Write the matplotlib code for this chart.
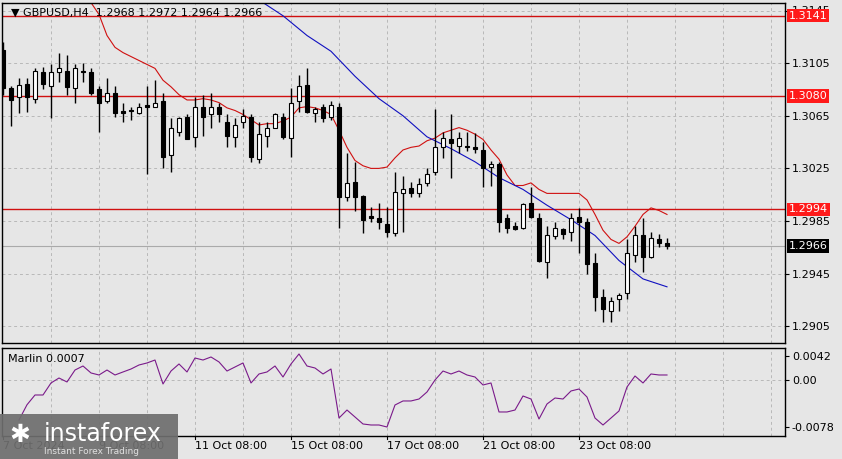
import numpy as np
import matplotlib
matplotlib.use("Agg")
import matplotlib.pyplot as plt
from matplotlib.patches import Rectangle

# --------------------------------------------------
# Data (GBPUSD H4, prices in pips *1e-4)
# --------------------------------------------------

opens = [13115, 13086, 13079, 13089, 13078, 13098, 13088, 13098, 13099, 13086,
         13099, 13098, 13085, 13076, 13082, 13069, 13069, 13067, 13073, 13072,
         13076, 13035, 13053, 13064, 13049, 13072, 13066, 13072, 13060, 13049,
         13060, 13064, 13032, 13050, 13056, 13064, 13048, 13076, 13088, 13067,
         13072, 13064, 13072, 13003, 13015, 13004, 12989, 12987, 12983, 12976,
         13006, 13010, 13006, 13014, 13022, 13041, 13047, 13042, 13042, 13041,
         13039, 13026, 13028, 12987, 12981, 12980, 12999, 12987, 12954, 12974,
         12979, 12977, 12988, 12984, 12953, 12927, 12917, 12926, 12930, 12959,
         12974, 12958, 12971, 12968]
highs = [13121, 13088, 13094, 13094, 13101, 13102, 13104, 13113, 13111, 13104,
         13105, 13101, 13088, 13094, 13088, 13075, 13072, 13075, 13088, 13092,
         13082, 13063, 13064, 13066, 13079, 13081, 13082, 13075, 13066, 13063,
         13070, 13066, 13060, 13060, 13067, 13067, 13086, 13096, 13101, 13072,
         13074, 13076, 13075, 13037, 13030, 13005, 12996, 12999, 12996, 13022,
         13019, 13015, 13018, 13025, 13070, 13053, 13066, 13053, 13053, 13052,
         13045, 13031, 13030, 12990, 12984, 12999, 13011, 12991, 12981, 12984,
         12980, 12991, 12995, 12987, 12961, 12933, 12927, 12930, 12971, 12981,
         12987, 12977, 12975, 12972]
lows = [13081, 13057, 13067, 13068, 13075, 13085, 13063, 13091, 13081, 13075,
        13091, 13081, 13053, 13075, 13064, 13060, 13062, 13066, 13021, 13072,
        13025, 13022, 13050, 13047, 13041, 13050, 13056, 13060, 13041, 13041,
        13056, 13030, 13029, 13041, 13056, 13047, 13034, 13068, 13067, 13060,
        13060, 13062, 12980, 13000, 12993, 12976, 12984, 12979, 12973, 12974,
        12977, 13003, 13003, 13012, 13020, 13033, 13018, 13037, 13038, 13037,
        13011, 13012, 12977, 12976, 12978, 12979, 12987, 12954, 12942, 12971,
        12971, 12970, 12961, 12945, 12917, 12908, 12908, 12917, 12926, 12954,
        12946, 12957, 12965, 12964]
closes = [13086, 13077, 13088, 13079, 13099, 13089, 13098, 13101, 13087, 13101,
          13098, 13082, 13075, 13082, 13067, 13067, 13069, 13072, 13072, 13075,
          13034, 13056, 13063, 13047, 13072, 13064, 13072, 13066, 13050, 13058,
          13065, 13034, 13051, 13056, 13066, 13049, 13075, 13088, 13068, 13070,
          13063, 13073, 13003, 13014, 13003, 12986, 12987, 12984, 12977, 13007,
          13009, 13006, 13013, 13021, 13041, 13048, 13044, 13048, 13041, 13040,
          13025, 13028, 12984, 12980, 12979, 12998, 12988, 12955, 12974, 12980,
          12975, 12987, 12984, 12952, 12927, 12918, 12924, 12929, 12961, 12974,
          12958, 12972, 12968, 12966]

red_start = 11
red_ma = [13151, 13142, 13126, 13117, 13113, 13110, 13107, 13104, 13101, 13092,
          13087, 13081, 13077, 13077, 13078, 13077, 13075, 13071, 13069, 13066,
          13062, 13058, 13059, 13059, 13061, 13064, 13071, 13072, 13071, 13069,
          13066, 13054, 13041, 13031, 13027, 13025, 13025, 13026, 13033, 13039,
          13041, 13042, 13046, 13048, 13052, 13054, 13056, 13054, 13051, 13047,
          13039, 13032, 13020, 13012, 13012, 13014, 13009, 13006, 13006, 13006,
          13006, 13006, 13001, 12990, 12978, 12971, 12968, 12973, 12981, 12990,
          12995, 12993, 12990]

blue_idx = [31, 32, 35, 38, 41, 44, 47, 50, 53, 56, 59, 62, 65, 68, 71, 74, 77, 80, 83]
blue_ma = [13161, 13153, 13141, 13126, 13114, 13095, 13078, 13065, 13049, 13040,
           13030, 13018, 13009, 12997, 12986, 12974, 12955, 12941, 12935]

marlin_start = 2
marlin = [-66.8, -41, -24.5, -24.5, -4.2, 4.2, -2.5, 17.7, 24.5, 12.7,
          9.3, 17.7, 9.3, 14.4, 19.4, 26.2, 29.6, 34.6, -5.9, 16,
          27.9, 14.4, 38, 34.6, 39.7, 31.3, 16, 22.8, 29.6, -4.2,
          11, 14.4, 24.5, 5.9, 27.9, 44.8, 24.5, 21.1, 11, 19.4,
          -63.4, -49.9, -61.7, -73.5, -75.2, -75.2, -78.6, -41.4, -34.6, -34.6,
          -31.3, -19.4, 0.8, 16, 11, 16, 9.3, 5.9, -7.6, -4.2,
          -53.2, -53.2, -49.9, -26.2, -31.3, -65.1, -39.7, -29.6, -31.3, -17.7,
          -14.4, -27.9, -63.4, -75.2, -63.4, -51.5, -11, 7.6, -4.2, 11,
          9.3, 9.3]

levels = [1.3141, 1.3080, 1.2994]
last_price = 1.2966
price_ticks = [1.3145, 1.3105, 1.3065, 1.3025, 1.2985, 1.2945, 1.2905]
date_idx = [0, 12, 24, 36, 48, 60, 72]
date_labels = ["7 Oct 2024", "9 Oct 08:00", "11 Oct 08:00", "15 Oct 08:00",
               "17 Oct 08:00", "21 Oct 08:00", "23 Oct 08:00"]

o = np.array(opens) / 1e4
h = np.array(highs) / 1e4
l = np.array(lows) / 1e4
c = np.array(closes) / 1e4
x = np.arange(len(o))

# --------------------------------------------------
# Figure
# --------------------------------------------------

W, H = 842, 459
bg = "#e6e6e6"
fig = plt.figure(figsize=(W / 100, H / 100), dpi=100, facecolor=bg)

ax = fig.add_axes([2 / W, 1 - 343 / H, 783 / W, 340 / H], facecolor=bg)
ax2 = fig.add_axes([2 / W, 1 - 436 / H, 783 / W, 88 / H], facecolor=bg)

for a in (ax, ax2):
    a.set_xlim(-0.125, 97.75)
    for s in a.spines.values():
        s.set_color("black")
        s.set_linewidth(1)
    a.yaxis.tick_right()
    a.tick_params(axis="y", length=3, labelsize=8, pad=2, colors="black")
    a.set_xticks([])
    for gx in range(6, 98, 6):
        a.axvline(gx, color="#b8b8b8", lw=0.7, ls=(0, (3, 3)), zorder=0)

ax.set_ylim(1.28923, 1.31507)
ax.set_yticks(price_ticks)
ax.set_yticklabels([f"{p:.4f}" for p in price_ticks])
for p in price_ticks:
    ax.axhline(p, color="#b8b8b8", lw=0.7, ls=(0, (3, 3)), zorder=0)

# horizontal levels
for lv in levels:
    ax.axhline(lv, color="#d01010", lw=1, zorder=1)
    ax.text(1.005, lv, f"{lv:.4f}", transform=ax.get_yaxis_transform(),
            color="white", fontsize=8, va="center", ha="left", zorder=5,
            bbox=dict(boxstyle="square,pad=0.15", fc="#ff1a1a", ec="none"),
            clip_on=False)
ax.axhline(last_price, color="#aaaaaa", lw=0.8, zorder=1)
ax.text(1.005, last_price, f"{last_price:.4f}", transform=ax.get_yaxis_transform(),
        color="white", fontsize=8, va="center", ha="left", zorder=5,
        bbox=dict(boxstyle="square,pad=0.15", fc="black", ec="none"),
        clip_on=False)

# moving averages
ax.plot(np.arange(red_start, red_start + len(red_ma)), np.array(red_ma) / 1e4,
        color="#d01010", lw=0.8, zorder=2)
ax.plot(blue_idx, np.array(blue_ma) / 1e4, color="#1010c0", lw=0.8, zorder=2)

# candles
bw = 0.6
for i in x:
    ax.vlines(i, l[i], h[i], color="black", lw=1, zorder=3)
    lo, hi = min(o[i], c[i]), max(o[i], c[i])
    fc = "white" if c[i] > o[i] else "black"
    ax.add_patch(Rectangle((i - bw / 2, lo), bw, max(hi - lo, 0.00002),
                           fc=fc, ec="black", lw=0.8, zorder=4))

ax.text(0.012, 0.985, "\u25bc GBPUSD,H4  1.2968 1.2972 1.2964 1.2966",
        transform=ax.transAxes, fontsize=8, va="top", ha="left", zorder=6)

# --------------------------------------------------
# Marlin indicator
# --------------------------------------------------

ax2.set_ylim(-0.00938, 0.00549)
ax2.set_yticks([0.0042, 0.0, -0.0078])
ax2.set_yticklabels(["0.0042", "0.00", "-0.0078"])
ax2.axhline(0.0, color="#b8b8b8", lw=0.7, ls=(0, (3, 3)), zorder=0)
ax2.plot(np.arange(marlin_start, marlin_start + len(marlin)), np.array(marlin) / 1e4,
         color="#7a1a8a", lw=0.8)
ax2.text(0.008, 0.93, "Marlin 0.0007", transform=ax2.transAxes, fontsize=8,
         va="top", ha="left")

for xi, lab in zip(date_idx, date_labels):
    ax2.text(xi, -0.0111, lab, fontsize=8, ha="left", va="center", clip_on=False)
    ax2.plot([xi, xi], [-0.00938, -0.0099], color="black", lw=0.8, clip_on=False)

# logo
fig.patches.append(Rectangle((0, 0), 178 / W, 45 / H, transform=fig.transFigure,
                             fc="#6e6e6e", ec="none", alpha=0.92, zorder=10))
fig.text(44 / W, 25 / H, "instaforex", color="white", fontsize=17,
         ha="left", va="center", zorder=11)
fig.text(44 / W, 8 / H, "Instant Forex Trading", color="#e0e0e0", fontsize=6.5,
         ha="left", va="center", zorder=11)
fig.text(20 / W, 24 / H, "\u2731", color="white", fontsize=18,
         ha="center", va="center", zorder=11)

fig.savefig("out.png", dpi=100, facecolor=bg)
